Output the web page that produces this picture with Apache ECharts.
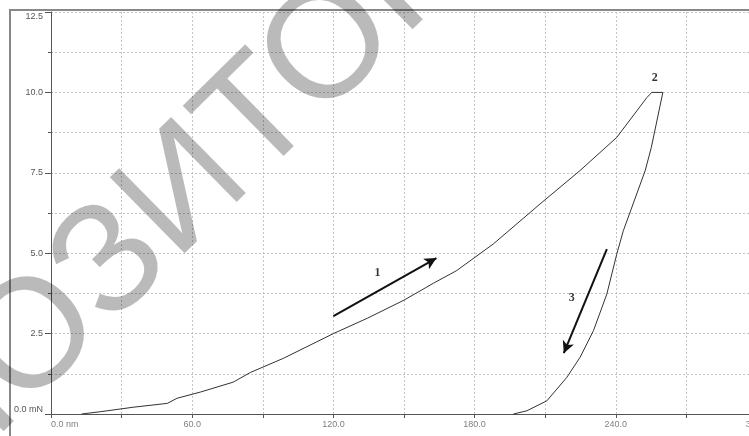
<!DOCTYPE html>
<html>
<head>
<meta charset="utf-8">
<script src="https://cdn.jsdelivr.net/npm/echarts@6/dist/echarts.min.js"></script>
<style>
  html, body { margin: 0; padding: 0; background: #fff; }
  #chart { width: 749px; height: 436px; }
</style>
</head>
<body>
<div id="chart"></div>
<script>
// loading branch (1), nm / mN
const loadDisp = [13, 20.9, 34.9, 49.4, 53.6, 63.4, 77.4, 84.7, 98.7, 120, 134.5, 150, 162.6, 172.4, 188, 207.8, 224.8, 240.4, 253.2, 255.3, 260]
const loadForce = [0, 0.07, 0.21, 0.33, 0.49, 0.68, 0.99, 1.29, 1.73, 2.5, 2.98, 3.54, 4.07, 4.46, 5.29, 6.53, 7.57, 8.6, 9.84, 10.0, 10.0]
// unloading branch (3)
const unloadDisp = [260, 255.1, 252.5, 245.8, 243.2, 240.4, 236.2, 230.5, 224.8, 219.2, 210.7, 202.2, 196.5]
const unloadForce = [10.0, 8.29, 7.57, 6.22, 5.7, 4.97, 3.73, 2.59, 1.76, 1.14, 0.41, 0.1, 0]
// arrows [x1, y1, x2, y2] and point labels
const arrows = [
  [120, 3.04, 163.8, 4.85],
  [236.2, 5.13, 217.9, 1.89]
]
const marks = [
  { name: '1', value: [138.7, 4.38] },
  { name: '2', value: [256.6, 10.45] },
  { name: '3', value: [221.3, 3.6] }
]

const chart = echarts.init(document.getElementById('chart'))

const splitStyle = { color: '#c4c4c4', type: [2, 2], width: 1 }

const option = {
  backgroundColor: '#fff',
  animation: false,
  // plot runs past the right edge of the screenshot
  grid: { left: 51, top: 12, right: -8, bottom: 22, containLabel: false, outerBoundsMode: 'none' },
  xAxis: {
    type: 'value',
    min: 0,
    max: 300,
    interval: 60,
    axisLine: { lineStyle: { color: '#555', width: 1 } },
    axisTick: { show: true, length: 4, lineStyle: { color: '#555' } },
    minorTick: { show: true, splitNumber: 2, length: 4, lineStyle: { color: '#555' } },
    splitLine: { show: true, lineStyle: splitStyle },
    minorSplitLine: { show: true, lineStyle: splitStyle },
    axisLabel: {
      color: '#808080',
      fontSize: 9,
      fontFamily: 'Liberation Sans',
      margin: 6,
      alignMinLabel: 'left',
      showMaxLabel: true,
      formatter: v => v === 0 ? '0.0 nm' : v.toFixed(1)
    }
  },
  yAxis: {
    type: 'value',
    min: 0,
    max: 12.5,
    interval: 2.5,
    axisLine: { show: true, lineStyle: { color: '#555', width: 1 } },
    axisTick: { show: true, length: 6, lineStyle: { color: '#555' } },
    minorTick: { show: true, splitNumber: 2, length: 3, lineStyle: { color: '#555' } },
    splitLine: { show: true, lineStyle: splitStyle },
    minorSplitLine: { show: true, lineStyle: splitStyle },
    axisLabel: {
      color: '#555',
      fontSize: 9,
      fontFamily: 'Liberation Sans',
      margin: 8,
      verticalAlignMinLabel: 'bottom',
      verticalAlignMaxLabel: 'top',
      formatter: v => v === 0 ? '0.0 mN' : v.toFixed(1)
    }
  },
  series: [
    {
      type: 'line',
      data: loadDisp.map((d, i) => [d, loadForce[i]]),
      showSymbol: false,
      lineStyle: { color: '#333', width: 1 },
      markLine: {
        silent: true,
        symbol: ['none', 'arrow'],
        symbolSize: [9, 12],
        label: { show: false },
        lineStyle: { color: '#111', width: 2, type: 'solid' },
        data: arrows.map(a => [{ coord: [a[0], a[1]] }, { coord: [a[2], a[3]] }])
      }
    },
    {
      type: 'line',
      data: unloadDisp.map((d, i) => [d, unloadForce[i]]),
      showSymbol: false,
      lineStyle: { color: '#333', width: 1 }
    },
    {
      type: 'scatter',
      data: marks,
      symbolSize: 0,
      label: {
        show: true,
        position: 'inside',
        formatter: p => p.name,
        color: '#000',
        fontSize: 12,
        fontWeight: 'bold',
        fontFamily: 'Liberation Serif'
      }
    }
  ],
  graphic: [
    // outer frame of the screenshot
    {
      type: 'polyline',
      z: 100,
      shape: { points: [[10, 436], [10, 10], [749, 10]] },
      style: { stroke: '#888', lineWidth: 2, fill: null }
    },
    // repository watermark
    {
      type: 'text',
      z: 200,
      x: 186,
      y: 192,
      rotation: 44.5 * Math.PI / 180,
      style: {
        text: 'РЕПОЗИТОРИЙ',
        font: '155px "Liberation Sans"',
        fill: 'rgba(0,0,0,0.27)',
        align: 'center',
        verticalAlign: 'middle'
      }
    }
  ]
}

chart.setOption(option)
</script>
</body>
</html>
